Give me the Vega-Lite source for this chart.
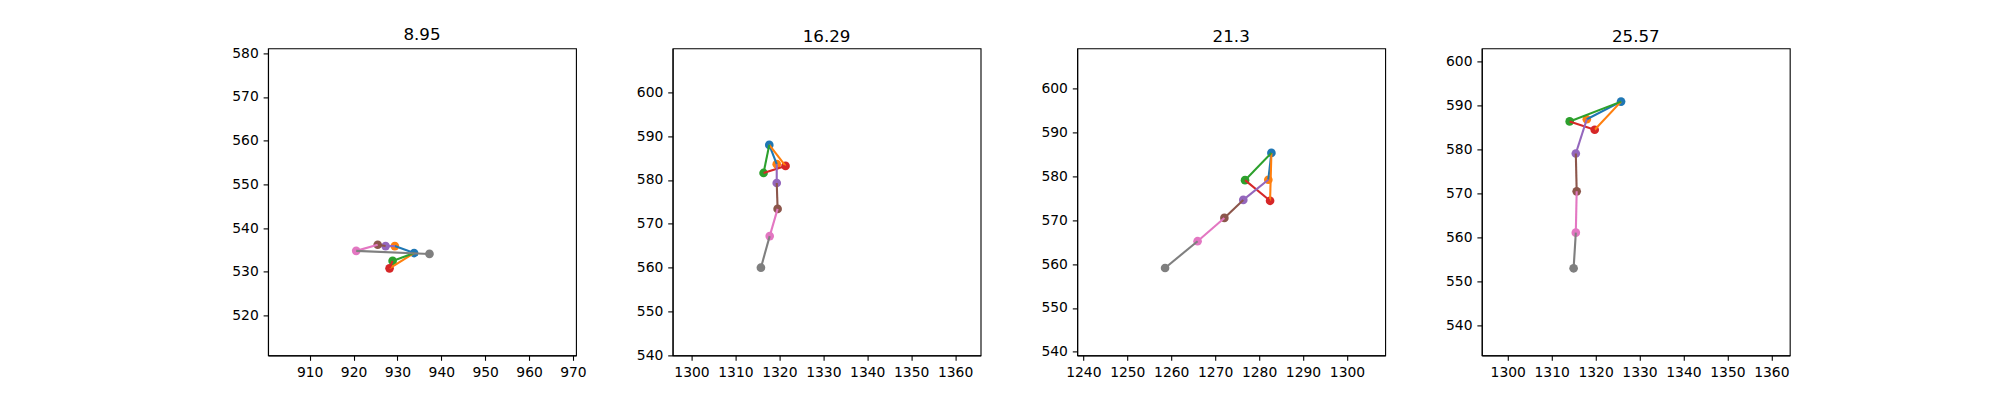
{
  "$schema": "https://vega.github.io/schema/vega-lite/v6.json",
  "padding": {"left": 231, "top": 26.4, "right": 5, "bottom": 5},
  "bounds": "flush",
  "spacing": 96.6,
  "datasets": {
    "joints": [
      {"frame": "8.95", "id": "a0", "k": 0, "x": 933.8, "y": 534.3},
      {"frame": "8.95", "id": "a1", "k": 1, "x": 929.4, "y": 535.9},
      {"frame": "8.95", "id": "a2", "k": 2, "x": 928.9, "y": 532.5},
      {"frame": "8.95", "id": "a3", "k": 3, "x": 928.2, "y": 530.8},
      {"frame": "8.95", "id": "a4", "k": 4, "x": 927.3, "y": 535.9},
      {"frame": "8.95", "id": "a5", "k": 5, "x": 925.5, "y": 536.2},
      {"frame": "8.95", "id": "a6", "k": 6, "x": 920.6, "y": 534.8},
      {"frame": "8.95", "id": "a7", "k": 7, "x": 937.3, "y": 534.1},
      {"frame": "16.29", "id": "b0", "k": 0, "x": 1317.7, "y": 588.0},
      {"frame": "16.29", "id": "b1", "k": 1, "x": 1319.4, "y": 583.6},
      {"frame": "16.29", "id": "b2", "k": 2, "x": 1316.4, "y": 581.6},
      {"frame": "16.29", "id": "b3", "k": 3, "x": 1321.4, "y": 583.2},
      {"frame": "16.29", "id": "b4", "k": 4, "x": 1319.4, "y": 579.3},
      {"frame": "16.29", "id": "b5", "k": 5, "x": 1319.6, "y": 573.4},
      {"frame": "16.29", "id": "b6", "k": 6, "x": 1317.8, "y": 567.2},
      {"frame": "16.29", "id": "b7", "k": 7, "x": 1315.8, "y": 560.0},
      {"frame": "21.3", "id": "c0", "k": 0, "x": 1282.8, "y": 585.3},
      {"frame": "21.3", "id": "c1", "k": 1, "x": 1282.1, "y": 579.2},
      {"frame": "21.3", "id": "c2", "k": 2, "x": 1276.8, "y": 579.1},
      {"frame": "21.3", "id": "c3", "k": 3, "x": 1282.5, "y": 574.4},
      {"frame": "21.3", "id": "c4", "k": 4, "x": 1276.4, "y": 574.6},
      {"frame": "21.3", "id": "c5", "k": 5, "x": 1272.1, "y": 570.5},
      {"frame": "21.3", "id": "c6", "k": 6, "x": 1266.0, "y": 565.2},
      {"frame": "21.3", "id": "c7", "k": 7, "x": 1258.6, "y": 559.1},
      {"frame": "25.57", "id": "d0", "k": 0, "x": 1325.8, "y": 590.9},
      {"frame": "25.57", "id": "d1", "k": 1, "x": 1318.0, "y": 586.9},
      {"frame": "25.57", "id": "d2", "k": 2, "x": 1314.1, "y": 586.4},
      {"frame": "25.57", "id": "d3", "k": 3, "x": 1319.8, "y": 584.5},
      {"frame": "25.57", "id": "d4", "k": 4, "x": 1315.5, "y": 579.1},
      {"frame": "25.57", "id": "d5", "k": 5, "x": 1315.7, "y": 570.5},
      {"frame": "25.57", "id": "d6", "k": 6, "x": 1315.5, "y": 561.1},
      {"frame": "25.57", "id": "d7", "k": 7, "x": 1315.0, "y": 553.0}
    ],
    "bones": [
      {"frame": "8.95", "k": 0, "from": "a0", "to": "a1"},
      {"frame": "8.95", "k": 1, "from": "a0", "to": "a3"},
      {"frame": "8.95", "k": 2, "from": "a0", "to": "a2"},
      {"frame": "8.95", "k": 3, "from": "a2", "to": "a3"},
      {"frame": "8.95", "k": 4, "from": "a1", "to": "a4"},
      {"frame": "8.95", "k": 5, "from": "a4", "to": "a5"},
      {"frame": "8.95", "k": 6, "from": "a5", "to": "a6"},
      {"frame": "8.95", "k": 7, "from": "a6", "to": "a7"},
      {"frame": "16.29", "k": 0, "from": "b0", "to": "b1"},
      {"frame": "16.29", "k": 1, "from": "b0", "to": "b3"},
      {"frame": "16.29", "k": 2, "from": "b0", "to": "b2"},
      {"frame": "16.29", "k": 3, "from": "b2", "to": "b3"},
      {"frame": "16.29", "k": 4, "from": "b1", "to": "b4"},
      {"frame": "16.29", "k": 5, "from": "b4", "to": "b5"},
      {"frame": "16.29", "k": 6, "from": "b5", "to": "b6"},
      {"frame": "16.29", "k": 7, "from": "b6", "to": "b7"},
      {"frame": "21.3", "k": 0, "from": "c0", "to": "c1"},
      {"frame": "21.3", "k": 1, "from": "c0", "to": "c3"},
      {"frame": "21.3", "k": 2, "from": "c0", "to": "c2"},
      {"frame": "21.3", "k": 3, "from": "c2", "to": "c3"},
      {"frame": "21.3", "k": 4, "from": "c1", "to": "c4"},
      {"frame": "21.3", "k": 5, "from": "c4", "to": "c5"},
      {"frame": "21.3", "k": 6, "from": "c5", "to": "c6"},
      {"frame": "21.3", "k": 7, "from": "c6", "to": "c7"},
      {"frame": "25.57", "k": 0, "from": "d0", "to": "d1"},
      {"frame": "25.57", "k": 1, "from": "d0", "to": "d3"},
      {"frame": "25.57", "k": 2, "from": "d0", "to": "d2"},
      {"frame": "25.57", "k": 3, "from": "d2", "to": "d3"},
      {"frame": "25.57", "k": 4, "from": "d1", "to": "d4"},
      {"frame": "25.57", "k": 5, "from": "d4", "to": "d5"},
      {"frame": "25.57", "k": 6, "from": "d5", "to": "d6"},
      {"frame": "25.57", "k": 7, "from": "d6", "to": "d7"}
    ]
  },
  "config": {
    "font": "DejaVu Sans",
    "view": {"stroke": "black", "strokeWidth": 1.1},
    "axis": {
      "grid": false,
      "title": null,
      "format": "d",
      "labelFont": "DejaVu Sans",
      "labelFontSize": 13.9,
      "labelColor": "black",
      "labelPadding": 4.9,
      "tickColor": "black",
      "tickSize": 4.9,
      "tickWidth": 1.1,
      "domainColor": "black",
      "domainWidth": 1.1
    },
    "title": {
      "font": "DejaVu Sans",
      "fontSize": 16.7,
      "fontWeight": "normal",
      "color": "black",
      "offset": 2.5,
      "baseline": "alphabetic"
    }
  },
  "hconcat": [
    {
      "title": "8.95",
      "width": 308,
      "height": 307,
      "layer": [
        {
          "data": {"name": "joints"},
          "transform": [{"filter": "datum.frame === '8.95'"}],
          "mark": {"type": "circle", "size": 75, "opacity": 1},
          "encoding": {
            "x": {"field": "x", "type": "quantitative", "scale": {"domain": [900.5, 970.7], "nice": false, "zero": false}, "axis": {"values": [910, 920, 930, 940, 950, 960, 970]}},
            "y": {"field": "y", "type": "quantitative", "scale": {"domain": [510.9, 581.1], "nice": false, "zero": false}, "axis": {"values": [520, 530, 540, 550, 560, 570, 580]}},
            "color": {"field": "k", "type": "nominal", "legend": null, "scale": {"domain": [0, 1, 2, 3, 4, 5, 6, 7], "range": ["#1f77b4", "#ff7f0e", "#2ca02c", "#d62728", "#9467bd", "#8c564b", "#e377c2", "#7f7f7f"]}}
          }
        },
        {
          "data": {"name": "bones"},
          "transform": [
            {"filter": "datum.frame === '8.95'"},
            {"lookup": "from", "from": {"data": {"name": "joints"}, "key": "id", "fields": ["x", "y"]}, "as": ["xa", "ya"]},
            {"lookup": "to", "from": {"data": {"name": "joints"}, "key": "id", "fields": ["x", "y"]}, "as": ["xb", "yb"]}
          ],
          "mark": {"type": "rule", "strokeWidth": 2.1},
          "encoding": {
            "x": {"field": "xa", "type": "quantitative"},
            "y": {"field": "ya", "type": "quantitative"},
            "x2": {"field": "xb"},
            "y2": {"field": "yb"},
            "color": {"field": "k", "type": "nominal", "legend": null}
          }
        }
      ]
    },
    {
      "title": "16.29",
      "width": 308,
      "height": 307,
      "layer": [
        {
          "data": {"name": "joints"},
          "transform": [{"filter": "datum.frame === '16.29'"}],
          "mark": {"type": "circle", "size": 75, "opacity": 1},
          "encoding": {
            "x": {"field": "x", "type": "quantitative", "scale": {"domain": [1295.7, 1365.8], "nice": false, "zero": false}, "axis": {"values": [1300, 1310, 1320, 1330, 1340, 1350, 1360]}},
            "y": {"field": "y", "type": "quantitative", "scale": {"domain": [540, 610], "nice": false, "zero": false}, "axis": {"values": [540, 550, 560, 570, 580, 590, 600]}},
            "color": {"field": "k", "type": "nominal", "legend": null, "scale": {"domain": [0, 1, 2, 3, 4, 5, 6, 7], "range": ["#1f77b4", "#ff7f0e", "#2ca02c", "#d62728", "#9467bd", "#8c564b", "#e377c2", "#7f7f7f"]}}
          }
        },
        {
          "data": {"name": "bones"},
          "transform": [
            {"filter": "datum.frame === '16.29'"},
            {"lookup": "from", "from": {"data": {"name": "joints"}, "key": "id", "fields": ["x", "y"]}, "as": ["xa", "ya"]},
            {"lookup": "to", "from": {"data": {"name": "joints"}, "key": "id", "fields": ["x", "y"]}, "as": ["xb", "yb"]}
          ],
          "mark": {"type": "rule", "strokeWidth": 2.1},
          "encoding": {
            "x": {"field": "xa", "type": "quantitative"},
            "y": {"field": "ya", "type": "quantitative"},
            "x2": {"field": "xb"},
            "y2": {"field": "yb"},
            "color": {"field": "k", "type": "nominal", "legend": null}
          }
        }
      ]
    },
    {
      "title": "21.3",
      "width": 308,
      "height": 307,
      "layer": [
        {
          "data": {"name": "joints"},
          "transform": [{"filter": "datum.frame === '21.3'"}],
          "mark": {"type": "circle", "size": 75, "opacity": 1},
          "encoding": {
            "x": {"field": "x", "type": "quantitative", "scale": {"domain": [1238.6, 1308.7], "nice": false, "zero": false}, "axis": {"values": [1240, 1250, 1260, 1270, 1280, 1290, 1300]}},
            "y": {"field": "y", "type": "quantitative", "scale": {"domain": [539.2, 609.1], "nice": false, "zero": false}, "axis": {"values": [540, 550, 560, 570, 580, 590, 600]}},
            "color": {"field": "k", "type": "nominal", "legend": null, "scale": {"domain": [0, 1, 2, 3, 4, 5, 6, 7], "range": ["#1f77b4", "#ff7f0e", "#2ca02c", "#d62728", "#9467bd", "#8c564b", "#e377c2", "#7f7f7f"]}}
          }
        },
        {
          "data": {"name": "bones"},
          "transform": [
            {"filter": "datum.frame === '21.3'"},
            {"lookup": "from", "from": {"data": {"name": "joints"}, "key": "id", "fields": ["x", "y"]}, "as": ["xa", "ya"]},
            {"lookup": "to", "from": {"data": {"name": "joints"}, "key": "id", "fields": ["x", "y"]}, "as": ["xb", "yb"]}
          ],
          "mark": {"type": "rule", "strokeWidth": 2.1},
          "encoding": {
            "x": {"field": "xa", "type": "quantitative"},
            "y": {"field": "ya", "type": "quantitative"},
            "x2": {"field": "xb"},
            "y2": {"field": "yb"},
            "color": {"field": "k", "type": "nominal", "legend": null}
          }
        }
      ]
    },
    {
      "title": "25.57",
      "width": 308,
      "height": 307,
      "layer": [
        {
          "data": {"name": "joints"},
          "transform": [{"filter": "datum.frame === '25.57'"}],
          "mark": {"type": "circle", "size": 75, "opacity": 1},
          "encoding": {
            "x": {"field": "x", "type": "quantitative", "scale": {"domain": [1294.1, 1364.2], "nice": false, "zero": false}, "axis": {"values": [1300, 1310, 1320, 1330, 1340, 1350, 1360]}},
            "y": {"field": "y", "type": "quantitative", "scale": {"domain": [533.2, 603.0], "nice": false, "zero": false}, "axis": {"values": [540, 550, 560, 570, 580, 590, 600]}},
            "color": {"field": "k", "type": "nominal", "legend": null, "scale": {"domain": [0, 1, 2, 3, 4, 5, 6, 7], "range": ["#1f77b4", "#ff7f0e", "#2ca02c", "#d62728", "#9467bd", "#8c564b", "#e377c2", "#7f7f7f"]}}
          }
        },
        {
          "data": {"name": "bones"},
          "transform": [
            {"filter": "datum.frame === '25.57'"},
            {"lookup": "from", "from": {"data": {"name": "joints"}, "key": "id", "fields": ["x", "y"]}, "as": ["xa", "ya"]},
            {"lookup": "to", "from": {"data": {"name": "joints"}, "key": "id", "fields": ["x", "y"]}, "as": ["xb", "yb"]}
          ],
          "mark": {"type": "rule", "strokeWidth": 2.1},
          "encoding": {
            "x": {"field": "xa", "type": "quantitative"},
            "y": {"field": "ya", "type": "quantitative"},
            "x2": {"field": "xb"},
            "y2": {"field": "yb"},
            "color": {"field": "k", "type": "nominal", "legend": null}
          }
        }
      ]
    }
  ]
}
